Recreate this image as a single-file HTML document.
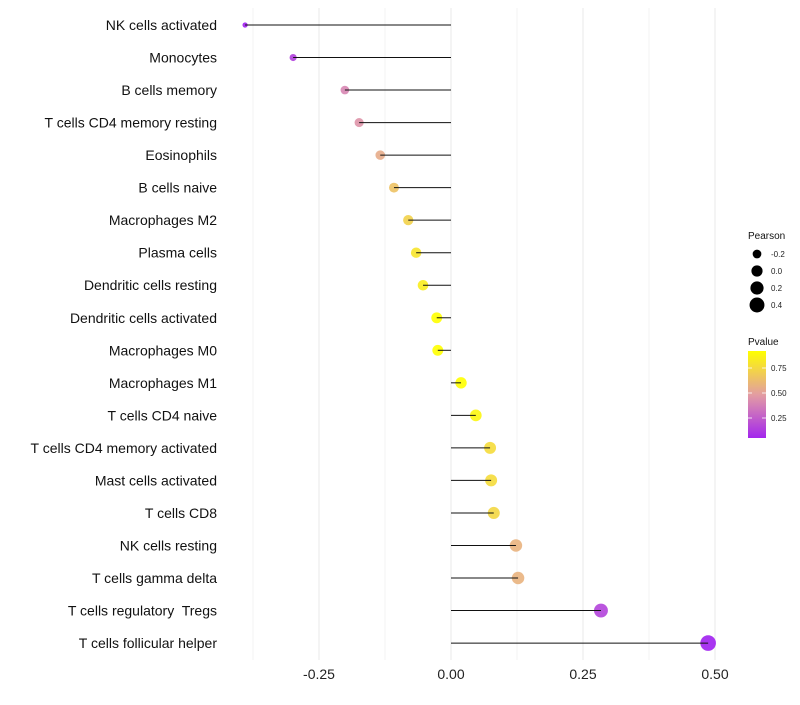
<!DOCTYPE html>
<html><head><meta charset="utf-8"><style>
body{margin:0;background:#fff;font-family:"Liberation Sans",sans-serif}
text{white-space:pre}
</style></head><body>
<svg id="chart" width="800" height="700" xmlns="http://www.w3.org/2000/svg"></svg>
<script>
const categories=["NK cells activated","Monocytes","B cells memory","T cells CD4 memory resting","Eosinophils","B cells naive","Macrophages M2","Plasma cells","Dendritic cells resting","Dendritic cells activated","Macrophages M0","Macrophages M1","T cells CD4 naive","T cells CD4 memory activated","Mast cells activated","T cells CD8","NK cells resting","T cells gamma delta","T cells regulatory  Tregs","T cells follicular helper"];
const pearson=[-0.390,-0.299,-0.201,-0.174,-0.134,-0.108,-0.081,-0.066,-0.053,-0.027,-0.025,0.019,0.047,0.074,0.076,0.081,0.123,0.127,0.284,0.487];
const pvalues=[0.03,0.14,0.40,0.45,0.55,0.65,0.72,0.80,0.84,0.92,0.92,0.95,0.88,0.76,0.76,0.74,0.58,0.58,0.16,0.03];
const xTicks=[-0.25,0,0.25,0.5];
const xTickLabels=["-0.25","0.00","0.25","0.50"];
const legendSizes=[-0.2,0.0,0.2,0.4];
const legendP=[0.75,0.50,0.25];

const NS="http://www.w3.org/2000/svg";
const svg=document.getElementById('chart');
const x=v=>451+v*528;
const y=i=>25+i*32.53;
const r=v=>Math.sqrt(Math.max(1,28+58*v))+0.3;
function lerp(a,b,t){return a.map((c,k)=>Math.round(c+(b[k]-c)*t));}
function color(p){
  const t=Math.max(0,Math.min(1,(p-0.03)/(0.92-0.03)));
  const P=[160,32,240],M=[226,155,165],Y=[255,255,0];
  const c=t<0.5?lerp(P,M,t/0.5):lerp(M,Y,(t-0.5)/0.5);
  return `rgb(${c[0]},${c[1]},${c[2]})`;
}
function el(tag,attrs,parent){const e=document.createElementNS(NS,tag);for(const k in attrs)e.setAttribute(k,attrs[k]);(parent||svg).appendChild(e);return e;}

const grid=el('g',{});


for(let v=-0.375;v<=0.5;v+=0.125){
  el('line',{x1:x(v),x2:x(v),y1:8,y2:660,stroke:'#ebebeb','stroke-width':(Math.abs(v*8)%2===1)?0.6:1.1},grid);
}
xTicks.forEach((v,i)=>{
  const t=el('text',{x:x(v),y:679,'text-anchor':'middle','font-size':14,fill:'#222'});
  t.textContent=xTickLabels[i];
  
  
});
categories.forEach((c,i)=>{
  const lab=el('text',{x:217,y:y(i)+5,'text-anchor':'end','font-size':14,fill:'#111'});
  lab.textContent=c;
  
  
  const pt=el('circle',{cx:x(pearson[i]),cy:y(i),r:r(pearson[i]),fill:color(pvalues[i]),'fill-opacity':0.9});
  
  
  const ln=el('line',{x1:x(0),x2:x(pearson[i]),y1:y(i),y2:y(i),stroke:'#111','stroke-width':1});
  
  
});
const t1=el('text',{x:748,y:239,'font-size':10,fill:'#111'});t1.textContent='Pearson';


legendSizes.forEach((v,i)=>{
  const cy=254+i*17;
  const c=el('circle',{cx:757,cy:cy,r:r(v),fill:'#000'});
  
  
  const t=el('text',{x:771,y:cy+3,'font-size':8,fill:'#222'});t.textContent=v.toFixed(1);
  
  
});
const t2=el('text',{x:748,y:345,'font-size':10,fill:'#111'});t2.textContent='Pvalue';


const defs=el('defs',{});
const lg=el('linearGradient',{id:'pg',x1:0,y1:1,x2:0,y2:0},defs);
for(let k=0;k<=10;k++){const p=0.05+k*(0.92-0.05)/10;el('stop',{offset:k/10,'stop-color':color(p)},lg);}
const bar=el('rect',{x:748,y:351,width:18,height:87,fill:'url(#pg)'});


legendP.forEach(p=>{
  const yy=438-(p-0.05)/(0.92-0.05)*87;
  el('line',{x1:748,x2:752,y1:yy,y2:yy,stroke:'#fff','stroke-width':0.8});
  el('line',{x1:762,x2:766,y1:yy,y2:yy,stroke:'#fff','stroke-width':0.8});
  const t=el('text',{x:771,y:yy+3,'font-size':8,fill:'#222'});t.textContent=p.toFixed(2);
  
  
});
</script>
</body></html>
